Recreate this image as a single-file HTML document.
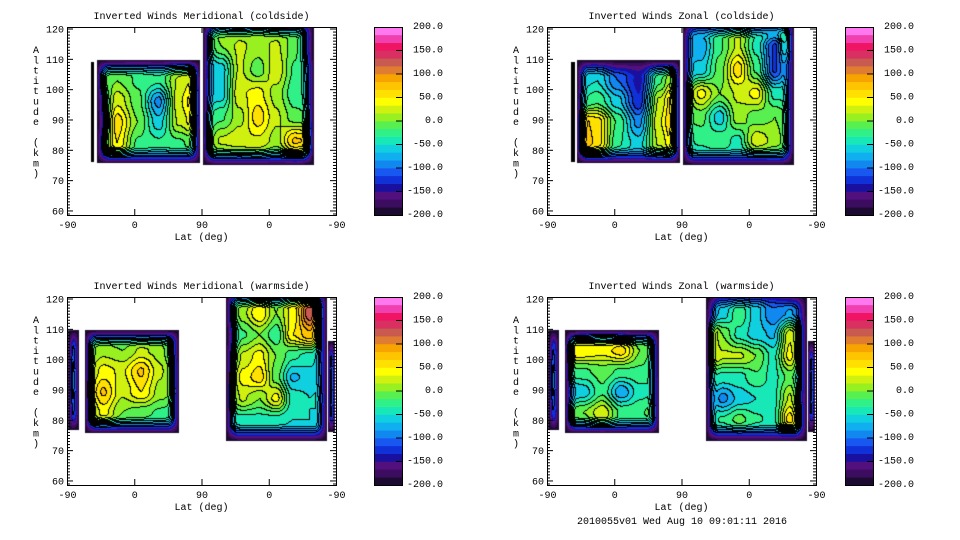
<!DOCTYPE html>
<html><head><meta charset="utf-8">
<style>
html,body{margin:0;padding:0;background:#fff;}
#root{position:relative;width:960px;height:540px;overflow:hidden;background:#fff;font-family:"Liberation Mono",monospace;}
canvas{position:absolute;}
svg{position:absolute;left:0;top:0;}
.t{font-family:"Liberation Mono",monospace;font-size:10px;fill:#000;}
</style></head>
<body>
<div id="root">
<svg id="ax" width="960" height="540"></svg>
</div>
<script>
// ---- Data (x in track units 0..360: -90,0,90,0,-90 ; alt in km) ----
const trackTicks = [0, 90, 180, 270, 360];
const trackTickLabels = ["-90", "0", "90", "0", "-90"];
const altTicks = [60, 70, 80, 90, 100, 110, 120];
const cbarTicks = [200, 150, 100, 50, 0, -50, -100, -150, -200];
const cbarTickLabels = ["200.0","150.0","100.0","50.0","0.0","-50.0","-100.0","-150.0","-200.0"];
const titles = ["Inverted Winds Meridional (coldside)","Inverted Winds Zonal (coldside)","Inverted Winds Meridional (warmside)","Inverted Winds Zonal (warmside)"];

// block extents: [x0, x1, altBottom, altTop]
const mcStripExt = [32, 36, 76, 109];
const mcAExt = [40, 178, 75.5, 109.5];
const mcBExt = [182, 330, 75, 122];
const mcStrip2Ext = [323, 330, 78, 110];
const mcA = [
 [-40,-30,-20,-30,-10,0],
 [-20,0,-20,-30,20,50],
 [-110,30,-10,-90,30,85],
 [-140,60,0,-60,20,60],
 [-80,50,-20,-30,-20,0],
 [-60,-30,-40,-40,-40,-40]];
const mcB = [
 [-60,20,-10,30,-10,0,-60],
 [-60,0,20,10,20,-10,-120],
 [-80,-60,20,-10,30,-20,-60],
 [-70,-60,30,40,10,-30,-40],
 [-40,-20,10,60,20,-10,-20],
 [-30,20,30,30,10,70,60],
 [-60,-40,-50,-40,-60,-40,-60]];

const zcStripExt = [32, 38, 76, 109];
const zcAExt = [40, 178, 75.5, 109.5];
const zcBExt = [182, 330, 75, 122];
const zcStrip2Ext = [323, 330, 76, 108];
const zcA = [
 [-60,-60,-120,-130,-60,-20],
 [-60,-50,-100,-140,-20,60],
 [-40,-20,-60,-130,20,100],
 [80,60,-20,-90,30,110],
 [110,60,-30,-60,20,80],
 [-40,-40,-60,-60,-40,-20]];
const zcB = [
 [-60,-40,-20,20,-20,20,80],
 [-80,-80,-20,20,-40,-120,40],
 [-70,-60,-10,60,-20,-120,-40],
 [-20,40,0,20,40,-40,-40],
 [-20,-10,-60,10,-10,0,-30],
 [-40,-30,-20,-40,30,10,-30],
 [-60,-60,-60,-60,-70,-60,-70]];

const mwStripExt = [2, 16, 76.5, 109.5];
const mwAExt = [24, 150, 75.5, 109.5];
const mwBExt = [213, 348, 73, 122];
const mwStrip2Ext = [349, 359, 76, 106];
const mwStrip = [[-120],[-90],[-120]];
const mwA = [
 [-40,-40,-40,-40,-40,-40],
 [-10,10,0,20,10,-60],
 [0,40,30,70,20,-20],
 [10,70,20,50,10,-10],
 [-20,40,0,-10,-20,-30],
 [-40,-40,-50,-50,-50,-50]];
const mwB = [
 [-20,0,30,-10,60,110,-60],
 [-60,10,50,0,40,130,-80],
 [-130,-20,0,-30,50,80,-80],
 [-80,20,40,0,-30,-40,-80],
 [-40,40,60,-10,-70,-60,-60],
 [-20,20,0,40,-40,-50,-40],
 [-50,-40,-40,-40,-50,-50,-60],
 [-80,-80,-80,-80,-80,-80,-80]];

const zwStripExt = [2, 16, 76.5, 109.5];
const zwAExt = [24, 150, 75.5, 109.5];
const zwBExt = [213, 348, 73, 122];
const zwStrip2Ext = [349, 359, 76, 106];
const zwStrip = [[-130],[-90],[-130]];
const zwA = [
 [-40,-20,0,-20,-40,-40],
 [50,50,40,60,0,-40],
 [-20,-20,-10,-20,-20,-40],
 [-80,-60,-20,-80,-40,-30],
 [-20,0,30,-20,-20,0],
 [-40,-40,-10,-30,-40,-40]];
const zwB = [
 [-150,-80,-60,-60,-90,-120,-150],
 [-100,-60,-20,-60,-100,-80,-120],
 [80,0,-40,-60,-70,30,-60],
 [60,20,20,0,-40,40,-80],
 [-20,-40,-40,-20,-40,-10,-80],
 [-40,-90,-60,-50,-40,20,-100],
 [-50,-30,-10,-30,-40,60,-80],
 [-80,-80,-80,-80,-80,-80,-80]];

const blackStrip = [[-230]];

const palette = ["#1c0a30","#3c0c60","#52107e","#1a10a0","#1030d8","#1858f0","#1088f0","#10b0f0","#10d0e0","#18e8b8","#30f088","#58f050","#98f020","#d0f010","#ffff00","#ffe000","#ffc400","#f8a400","#e07c30","#c85a50","#d83060","#f01464","#f040b0","#ff78f0"];

// ---- layout ----
const panels = [
 {px:67, py:27, cb:374, blocks:[[mcStripExt,blackStrip],[mcAExt,mcA],[mcBExt,mcB],[mcStrip2Ext,blackStrip]]},
 {px:547, py:27, cb:845, blocks:[[zcStripExt,blackStrip],[zcAExt,zcA],[zcBExt,zcB],[zcStrip2Ext,blackStrip]]},
 {px:67, py:297, cb:374, blocks:[[mwStripExt,mwStrip],[mwAExt,mwA],[mwBExt,mwB],[mwStrip2Ext,mwStrip]]},
 {px:547, py:297, cb:845, blocks:[[zwStripExt,zwStrip],[zwAExt,zwA],[zwBExt,zwB],[zwStrip2Ext,zwStrip]]}
];
const PW = 269, PH = 188, ALT0 = 58.5, ALT1 = 120.5;
const xS = t => t / 360 * PW;
const yS = a => (ALT1 - a) / (ALT1 - ALT0) * PH;

function sample(g, fx, fy){
  const R = g.length, C = g[0].length;
  const gx = Math.max(0, Math.min(C-1, fx*(C-1))), gy = Math.max(0, Math.min(R-1, fy*(R-1)));
  const x0 = Math.floor(gx), y0 = Math.floor(gy);
  const x1 = Math.min(C-1, x0+1), y1 = Math.min(R-1, y0+1);
  const tx = gx - x0, ty = gy - y0;
  const sx = tx*tx*(3-2*tx), sy = ty*ty*(3-2*ty);
  const a = g[y0][x0]*(1-sx)+g[y0][x1]*sx;
  const b = g[y1][x0]*(1-sx)+g[y1][x1]*sx;
  return a*(1-sy)+b*sy;
}
function ramp(d, D){ const t = Math.max(0, Math.min(1, d/D)); return t*(1.5-0.5*t); }

const NS = "http://www.w3.org/2000/svg";
const ax = document.getElementById('ax');
function mk(tag, attrs, name, parent){
  const e = document.createElementNS(NS, tag);
  for (const k in attrs) e.setAttribute(k, attrs[k]);
  
  
  (parent||ax).appendChild(e);
  return e;
}
const root = document.getElementById('root');

panels.forEach((p, pi) => {
  const cv = document.createElement('canvas');
  
  
  cv.width = PW; cv.height = PH;
  cv.style.left = p.px + 'px'; cv.style.top = p.py + 'px';
  root.insertBefore(cv, ax);
  const ctx = cv.getContext('2d');
  const band = new Int16Array(PW*PH).fill(-99);
  for (const [ext, g] of p.blocks){
    const bx0 = xS(ext[0]), bx1 = xS(ext[1]), by0 = yS(ext[3]), by1 = yS(ext[2]);
    const w = bx1 - bx0, h = by1 - by0;
    const Dx = Math.min(11, w/2.05), Dy = Math.min(16, h/2.05);
    for (let y = Math.max(0,Math.floor(by0)); y < Math.min(PH, Math.ceil(by1)); y++){
      for (let x = Math.max(0,Math.floor(bx0)); x < Math.min(PW, Math.ceil(bx1)); x++){
        const cx = x+0.5, cy = y+0.5;
        if (cx < bx0 || cx > bx1 || cy < by0 || cy > by1) continue;
        let v = sample(g, (cx-bx0)/w, (cy-by0)/h);
        const t = ramp(Math.min(cx-bx0, bx1-cx), Dx) * ramp(Math.min(cy-by0, by1-cy), Dy);
        v = -200 + (v + 200) * t;
        let b = Math.floor((v + 200) / (400/24));
        if (v < -200) b = -1;
        if (b > 23) b = 23;
        const prev = band[y*PW+x];
        if (prev === -99 || b > prev) band[y*PW+x] = b;
      }
    }
  }
  const img = ctx.createImageData(PW, PH);
  const rgb = palette.map(h => [parseInt(h.substr(1,2),16),parseInt(h.substr(3,2),16),parseInt(h.substr(5,2),16)]);
  for (let y = 0; y < PH; y++) for (let x = 0; x < PW; x++){
    const i = y*PW+x, b = band[i];
    let c;
    if (b === -99) c = [255,255,255];
    else if (b === -1) c = [0,0,0];
    else {
      const r = x+1<PW ? band[i+1] : b, d = y+1<PH ? band[i+PW] : b;
      const lineR = r !== b && r !== -99 && Math.min(r,b) >= 4;
      const lineD = d !== b && d !== -99 && Math.min(d,b) >= 4;
      if (lineR || lineD) c = [0,0,0];
      else c = rgb[b];
    }
    img.data[i*4]=c[0]; img.data[i*4+1]=c[1]; img.data[i*4+2]=c[2]; img.data[i*4+3]=255;
  }
  ctx.putImageData(img, 0, 0);

  const g = mk('g', {}, 'panel-' + (pi+1));
  mk('rect', {x:p.px+0.5, y:p.py+0.5, width:PW, height:PH, fill:'none', stroke:'#000', 'stroke-width':1}, 'plot-frame', g);
  mk('text', {x:p.px+PW/2, y:p.py-8, 'text-anchor':'middle', class:'t'}, 'chart-title', g).textContent = titles[pi];
  trackTicks.forEach((t, k) => {
    const x = p.px + xS(t) + 0.5;
    mk('line', {x1:x, x2:x, y1:p.py+PH, y2:p.py+PH-6, stroke:'#000'}, 'x-tick', g);
    mk('line', {x1:x, x2:x, y1:p.py, y2:p.py+6, stroke:'#000'}, 'x-tick-top', g);
    mk('text', {x:x, y:p.py+PH+13, 'text-anchor':'middle', class:'t'}, 'x-tick-label', g).textContent = trackTickLabels[k];
  });
  mk('text', {x:p.px+PW/2, y:p.py+PH+25, 'text-anchor':'middle', class:'t'}, 'x-axis-title', g).textContent = 'Lat (deg)';
  for (let a = 59; a <= 120; a++){
    const y = p.py + yS(a) + 0.5, big = a % 10 === 0;
    mk('line', {x1:p.px, x2:p.px+(big?6:3), y1:y, y2:y, stroke:'#000'}, 'y-tick', g);
    mk('line', {x1:p.px+PW, x2:p.px+PW-(big?6:3), y1:y, y2:y, stroke:'#000'}, 'y-tick-right', g);
  }
  altTicks.forEach(a => {
    mk('text', {x:p.px-3, y:p.py+yS(a)+4, 'text-anchor':'end', class:'t'}, 'y-tick-label', g).textContent = String(a);
  });
  const yt = mk('text', {x:p.px-31, y:p.py+26, 'text-anchor':'middle', class:'t'}, 'y-axis-title', g);
  'Altitude (km)'.split('').forEach((ch, k) => {
    const ts = document.createElementNS(NS, 'tspan');
    ts.setAttribute('x', p.px-31);
    ts.setAttribute('dy', k === 0 ? 0 : 10.3);
    ts.textContent = ch === ' ' ? '\u00a0' : ch;
    yt.appendChild(ts);
  });
  const cbg = mk('g', {}, 'colorbar', g);
  const bh = PH / 24;
  palette.forEach((col, k) => {
    mk('rect', {x:p.cb, y:p.py + PH - (k+1)*bh, width:28, height:bh+0.3, fill:col}, 'colorbar-band', cbg);
  });
  mk('rect', {x:p.cb+0.5, y:p.py+0.5, width:28, height:PH, fill:'none', stroke:'#000'}, 'colorbar-frame', cbg);
  cbarTicks.forEach((v, k) => {
    const y = p.py + (200 - v) / 400 * PH;
    if (v !== 200 && v !== -200) mk('line', {x1:p.cb+22, x2:p.cb+28, y1:y, y2:y, stroke:'#000'}, 'colorbar-tick', cbg);
    mk('text', {x:p.cb+69, y:y+2, 'text-anchor':'end', class:'t'}, 'colorbar-label', cbg).textContent = cbarTickLabels[k];
  });
});
mk('text', {x:682, y:524, 'text-anchor':'middle', class:'t'}, 'footer-timestamp').textContent = '2010055v01 Wed Aug 10 09:01:11 2016';
</script>
</body></html>
